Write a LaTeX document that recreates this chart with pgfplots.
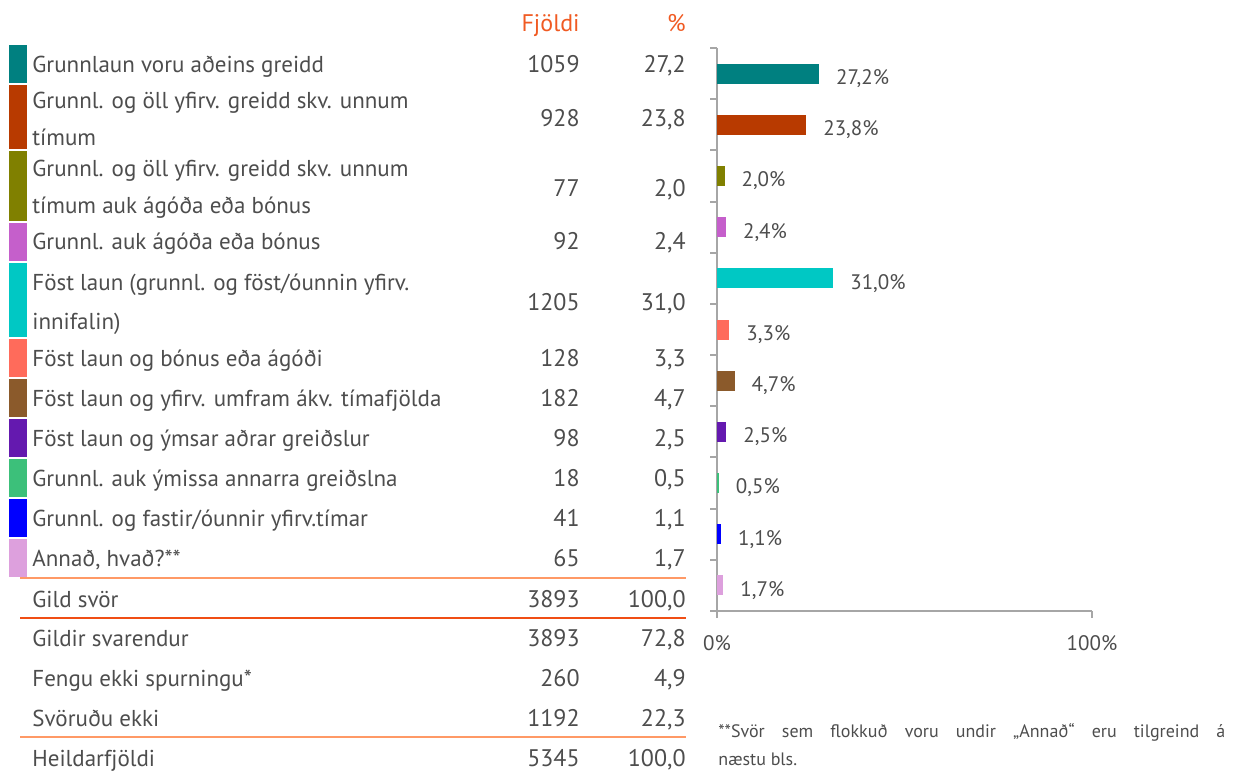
\documentclass[border=0pt]{standalone}
\usepackage{fontspec}
\setmainfont{PT Sans}
\usepackage{pgfplots}
\pgfplotsset{compat=1.18}
\usepackage{xcolor}
\definecolor{txt}{HTML}{4D4D4D}
\definecolor{head}{HTML}{F05A22}
\definecolor{lineA}{HTML}{FF9966}
\definecolor{lineB}{HTML}{F04E14}
\definecolor{axgray}{HTML}{A6A6A6}
\definecolor{c1}{HTML}{008080}
\definecolor{c2}{HTML}{B83A00}
\definecolor{c3}{HTML}{808000}
\definecolor{c4}{HTML}{C55FCB}
\definecolor{c5}{HTML}{00C8C4}
\definecolor{c6}{HTML}{FF6B5B}
\definecolor{c7}{HTML}{8B5A2B}
\definecolor{c8}{HTML}{6419AF}
\definecolor{c9}{HTML}{3CC07A}
\definecolor{c10}{HTML}{0000FF}
\definecolor{c11}{HTML}{DDA0DD}
\begin{document}
\begin{tikzpicture}[font=\fontsize{12}{14}\selectfont, text=txt]
\begin{scope}[x=0.5pt,y=-0.5pt]
\path[use as bounding box] (0,0) rectangle (1237,775);
% colour squares
\foreach \c/\a/\b in {c1/45/83, c2/85/149, c3/151/221, c4/223/261, c5/263/337,
    c6/339/377, c7/379/417, c8/419/457, c9/459/497, c10/499/537, c11/539/577}
  \fill[\c] (9,\a) rectangle (27,\b);
% headers
\node[anchor=base east, inner sep=0, text=head] at (580,32) {Fjöldi};
\node[anchor=base east, inner sep=0, text=head] at (686,32) {\%};
% labels
\foreach \y/\t in {73/{Grunnlaun voru aðeins greidd},
    109/{Grunnl. og öll yfirv. greidd skv. unnum}, 146/{tímum},
    177/{Grunnl. og öll yfirv. greidd skv. unnum}, 214/{tímum auk ágóða eða bónus},
    250/{Grunnl. auk ágóða eða bónus},
    291/{Föst laun (grunnl. og föst/óunnin yfirv.}, 329/{innifalin)},
    366/{Föst laun og bónus eða ágóði},
    406/{Föst laun og yfirv. umfram ákv. tímafjölda},
    446/{Föst laun og ýmsar aðrar greiðslur},
    486/{Grunnl. auk ýmissa annarra greiðslna},
    526/{Grunnl. og fastir/óunnir yfirv.tímar},
    566/{Annað, hvað?**},
    607/{Gild svör}, 646/{Gildir svarendur}, 686/{Fengu ekki spurningu*},
    726/{Svöruðu ekki}, 766/{Heildarfjöldi}}
  \node[anchor=base west, inner sep=0, font=\fontsize{11.5}{14}\selectfont] at (32,\y) {\t};
% numbers
\foreach \y/\n/\p in {73/1059/{27,2}, 127/928/{23,8}, 197/77/{2,0}, 250/92/{2,4},
    311/1205/{31,0}, 366/128/{3,3}, 406/182/{4,7}, 446/98/{2,5}, 486/18/{0,5},
    526/41/{1,1}, 566/65/{1,7}, 607/3893/{100,0}, 646/3893/{72,8},
    686/260/{4,9}, 726/1192/{22,3}, 766/5345/{100,0}}
{
  \node[anchor=base east, inner sep=0] at (580,\y) {\n};
  \node[anchor=base east, inner sep=0] at (686,\y) {\p};
}
% rules
\draw[lineA, line width=1pt] (20,578) -- (686,578);
\draw[lineB, line width=1pt] (20,618) -- (686,618);
\draw[lineA, line width=1pt] (20,737) -- (686,737);
% footnote
\node[anchor=base west, inner sep=0, font=\fontsize{9}{14}\selectfont] at (718,737)
  {\makebox[253.5pt][s]{**Svör sem flokkuð voru undir „Annað“ eru tilgreind á}};
\node[anchor=base west, inner sep=0, font=\fontsize{9}{14}\selectfont] at (718,765)
  {næstu bls.};
\end{scope}

\begin{axis}[
  at={(358.5pt,-305.5pt)}, anchor=south west,
  scale only axis, width=187.5pt, height=281.5pt,
  xmin=0, xmax=100, ymin=0.5, ymax=11.5, y dir=reverse,
  axis x line=bottom, axis y line=left,
  axis line style={axgray, line width=1pt, -},
  xtick={0,100}, xticklabels={0\%,100\%},
  ytick={0.5,1.5,...,11.5}, yticklabels={},
  tick style={axgray, line width=1pt},
  tick align=outside, major tick length=3.5pt,
  xticklabel style={font=\fontsize{10.5}{12}\selectfont, text=txt, yshift=-5pt},
  xbar, bar width=10pt, bar shift=0pt,
  every axis plot/.append style={draw=none},
  nodes near coords={\pgfmathprintnumber[fixed,fixed zerofill,precision=1,use comma,assume math mode=true]{\pgfplotspointmeta}\%},
  nodes near coords style={anchor=west, xshift=5pt, yshift=-2.5pt,
      font=\fontsize{10.5}{12}\selectfont, text=txt},
  clip=false,
]
\addplot[fill=c1] coordinates {(27.2,1)};
\addplot[fill=c2] coordinates {(23.8,2)};
\addplot[fill=c3] coordinates {(2.0,3)};
\addplot[fill=c4] coordinates {(2.4,4)};
\addplot[fill=c5] coordinates {(31.0,5)};
\addplot[fill=c6] coordinates {(3.3,6)};
\addplot[fill=c7] coordinates {(4.7,7)};
\addplot[fill=c8] coordinates {(2.5,8)};
\addplot[fill=c9] coordinates {(0.5,9)};
\addplot[fill=c10] coordinates {(1.1,10)};
\addplot[fill=c11] coordinates {(1.7,11)};
\end{axis}
\end{tikzpicture}
\end{document}
